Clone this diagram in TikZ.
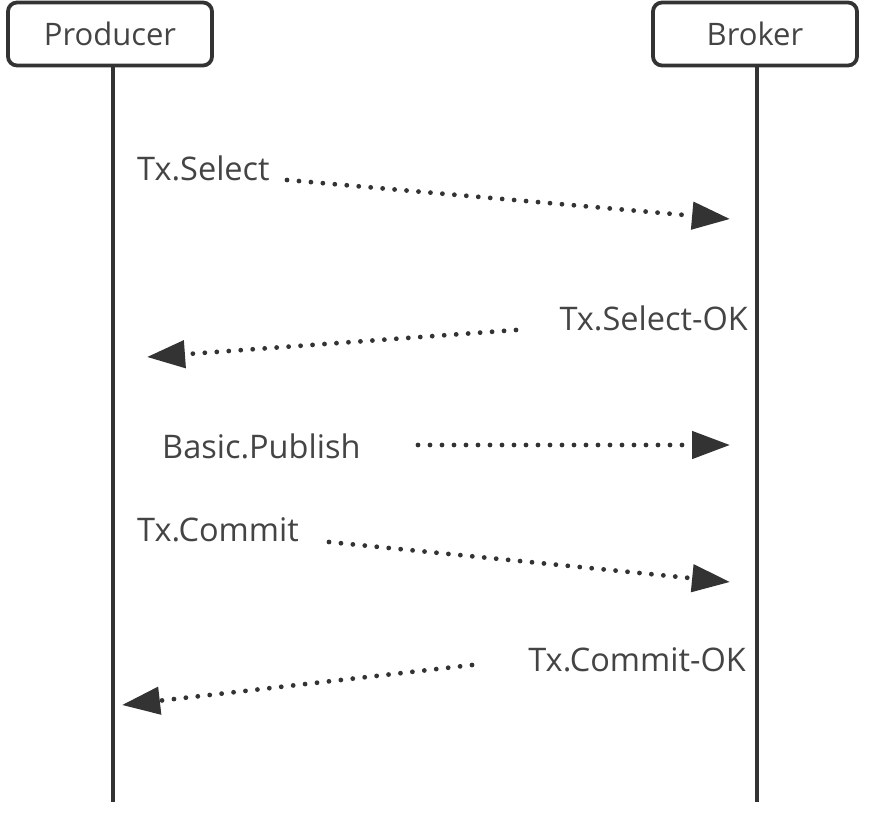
\documentclass[tikz,border=0pt]{standalone}
\usepackage{fontspec}
\setmainfont{Open Sans}
\usetikzlibrary{arrows.meta}
\definecolor{ink}{HTML}{333333}
\definecolor{label}{HTML}{444444}
\begin{document}
\begin{tikzpicture}[x=1pt,y=-1pt,
  actor/.style={draw=ink, line width=3.8pt, rounded corners=9pt, minimum width=204pt,
    minimum height=63pt, inner sep=0pt, text=label, font=\fontsize{31}{36}\selectfont},
  lifeline/.style={draw=ink, line width=3.8pt},
  msg/.style={draw=ink, line width=4.8pt, line cap=round, dash pattern=on 0pt off 12pt,
    -{Triangle[length=38pt,width=27pt]}},
  msgtext/.style={text=label, font=\fontsize{32.5}{38}\selectfont, inner sep=0pt}]
\useasboundingbox (0,0) rectangle (883,814);

% participants
\node[actor] (prod) at (110,34) {Producer};
\node[actor] (brok) at (755,34) {Broker};
\coordinate (prodEnd) at (113,802);
\coordinate (brokEnd) at (757,802);
\draw[lifeline] (prod.south -| prodEnd) -- (prodEnd);
\draw[lifeline] (brok.south -| brokEnd) -- (brokEnd);

% message labels
\node[msgtext, anchor=west] (sel) at (137,168) {Tx.Select};
\node[msgtext, anchor=east] (selok) at (748,318) {Tx.Select-OK};
\node[msgtext, anchor=west] (pub) at (162,446) {Basic.Publish};
\node[msgtext, anchor=west] (com) at (137,530) {Tx.Commit};
\node[msgtext, anchor=east] (comok) at (746,660) {Tx.Commit-OK};

% message end points
\coordinate (s1) at (287,180); \coordinate (e1) at (730,219);
\coordinate (s2) at (516,330); \coordinate (e2) at (147,357);
\coordinate (s3) at (418,445); \coordinate (e3) at (730,445);
\coordinate (s4) at (329,542); \coordinate (e4) at (730,582);
\coordinate (s5) at (472,665); \coordinate (e5) at (122,705);

\draw[msg] (s1) -- (e1);
\draw[msg] (s2) -- (e2);
\draw[msg] (s3) -- (e3);
\draw[msg] (s4) -- (e4);
\draw[msg] (s5) -- (e5);
\end{tikzpicture}
\end{document}
